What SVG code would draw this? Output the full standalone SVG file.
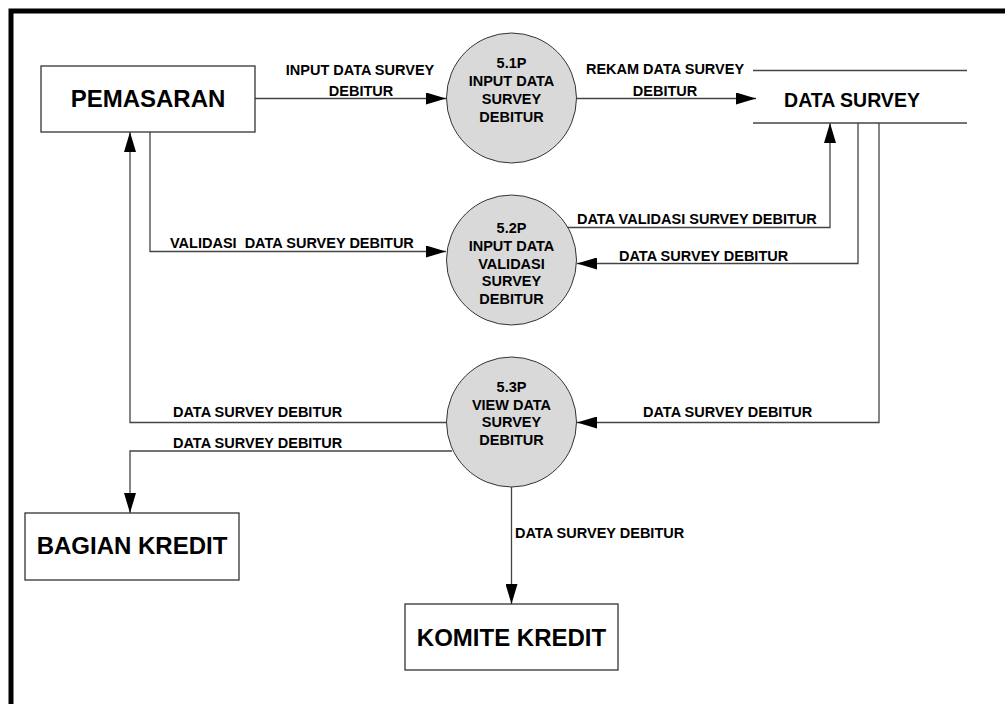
<svg xmlns="http://www.w3.org/2000/svg" width="1005" height="704" viewBox="0 0 1005 704">
<style>
text{font-family:"Liberation Sans",Arial,sans-serif;font-weight:bold;fill:#000}
.lbl{font-size:14.5px}
.ptxt{font-size:14.5px;text-anchor:middle}
.ent{font-size:24px;text-anchor:middle}
.box{fill:#fff;stroke:#333;stroke-width:1.3}
.proc{fill:#d9d9d9;stroke:#333;stroke-width:1}
.flow{fill:none;stroke:#444;stroke-width:1.3}
.store{stroke:#444;stroke-width:1.3}
</style>
<defs>
<marker id="arr" markerUnits="userSpaceOnUse" markerWidth="20" markerHeight="12" refX="20" refY="6" orient="auto">
<path d="M0,0 L20,6 L0,12 z" fill="#000"/>
</marker>
</defs>
<rect width="1005" height="704" fill="#fff"/>
<path d="M11,704 V11 H1005" fill="none" stroke="#000" stroke-width="5"/>

<g id="connectors">
<path class="flow" d="M255,98.5 H446" marker-end="url(#arr)"/>
<path class="flow" d="M577,98.5 H756" marker-end="url(#arr)"/>
<path class="flow" d="M150,132 V251.5 H446" marker-end="url(#arr)"/>
<path class="flow" d="M566,227.5 H830 V123" marker-end="url(#arr)"/>
<path class="flow" d="M858,123 V263.5 H577" marker-end="url(#arr)"/>
<path class="flow" d="M879,123 V422.5 H577" marker-end="url(#arr)"/>
<path class="flow" d="M446,422.5 H130 V132" marker-end="url(#arr)"/>
<path class="flow" d="M452,451 H130 V513" marker-end="url(#arr)"/>
<path class="flow" d="M511.5,487 V604" marker-end="url(#arr)"/>
</g>

<g id="labels">
<text class="lbl" x="360" y="75" text-anchor="middle">INPUT DATA SURVEY</text>
<text class="lbl" x="361" y="96" text-anchor="middle">DEBITUR</text>
<text class="lbl" x="665" y="74" text-anchor="middle">REKAM DATA SURVEY</text>
<text class="lbl" x="665" y="96" text-anchor="middle">DEBITUR</text>
<text class="lbl" x="170" y="248" xml:space="preserve">VALIDASI  DATA SURVEY DEBITUR</text>
<text class="lbl" x="577" y="224">DATA VALIDASI SURVEY DEBITUR</text>
<text class="lbl" x="619" y="261">DATA SURVEY DEBITUR</text>
<text class="lbl" x="643" y="417">DATA SURVEY DEBITUR</text>
<text class="lbl" x="173" y="417">DATA SURVEY DEBITUR</text>
<text class="lbl" x="173" y="447.5">DATA SURVEY DEBITUR</text>
<text class="lbl" x="515" y="538">DATA SURVEY DEBITUR</text>
</g>

<g id="pemasaran">
<rect class="box" x="41" y="66" width="214" height="66"/>
<text class="ent" x="148" y="107">PEMASARAN</text>
</g>

<g id="data-survey">
<line class="store" x1="753" y1="70.5" x2="967" y2="70.5"/>
<line class="store" x1="753" y1="123" x2="967" y2="123"/>
<text x="852" y="107" font-size="19.5" text-anchor="middle">DATA SURVEY</text>
</g>

<g id="p51">
<circle class="proc" cx="511.5" cy="98" r="65"/>
<text class="ptxt" x="511.5" y="68">5.1P</text>
<text class="ptxt" x="511.5" y="86">INPUT DATA</text>
<text class="ptxt" x="511.5" y="104">SURVEY</text>
<text class="ptxt" x="511.5" y="122">DEBITUR</text>
</g>

<g id="p52">
<circle class="proc" cx="511.5" cy="260" r="65"/>
<text class="ptxt" x="511.5" y="233">5.2P</text>
<text class="ptxt" x="511.5" y="251">INPUT DATA</text>
<text class="ptxt" x="511.5" y="269">VALIDASI</text>
<text class="ptxt" x="511.5" y="286">SURVEY</text>
<text class="ptxt" x="511.5" y="304">DEBITUR</text>
</g>

<g id="p53">
<circle class="proc" cx="511.5" cy="422" r="65"/>
<text class="ptxt" x="511.5" y="392">5.3P</text>
<text class="ptxt" x="511.5" y="410">VIEW DATA</text>
<text class="ptxt" x="511.5" y="427">SURVEY</text>
<text class="ptxt" x="511.5" y="445">DEBITUR</text>
</g>

<g id="bagian-kredit">
<rect class="box" x="25" y="513" width="214" height="67"/>
<text class="ent" x="132" y="554">BAGIAN KREDIT</text>
</g>

<g id="komite-kredit">
<rect class="box" x="405" y="604" width="213" height="66"/>
<text class="ent" x="511.5" y="646">KOMITE KREDIT</text>
</g>
</svg>
